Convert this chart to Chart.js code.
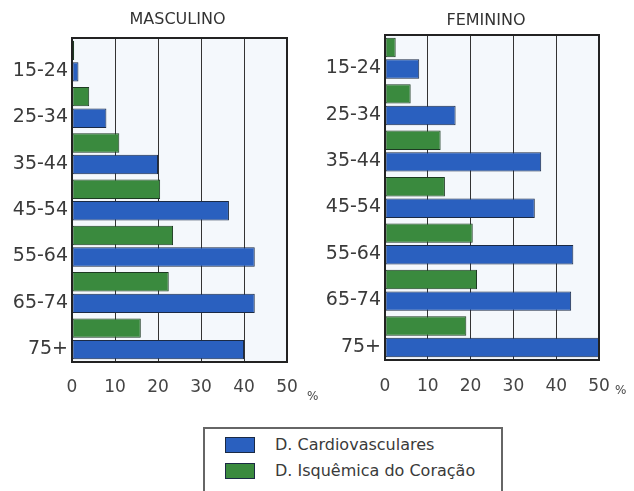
<!DOCTYPE html>
<html><head><meta charset="utf-8">
<script src="https://cdn.jsdelivr.net/npm/chart.js@4"></script>
<style>
body{margin:0;background:#fff;width:634px;height:491px;position:relative;overflow:hidden;font-family:"DejaVu Sans",sans-serif;color:#333}
#c1wrap{position:absolute;left:0;top:0;width:315px;height:410px}
#c2wrap{position:absolute;left:310px;top:0;width:324px;height:410px}
.pct{position:absolute;font-size:12px;color:#444;line-height:12px}
#legend{position:absolute;left:203px;top:427px;width:300px;height:80px;border:2px solid #666;box-sizing:border-box;font-size:16px;color:#3a3a3a}
.sw{position:absolute;left:20px;width:30px;height:16px;border:1px solid #1b2a44;box-sizing:border-box}
.lt{position:absolute;left:70px;line-height:18px}
</style></head>
<body>
<div id="c1wrap"><canvas id="c1"></canvas></div>
<div id="c2wrap"><canvas id="c2"></canvas></div>
<span class="pct" style="left:307px;top:390px">%</span>
<span class="pct" style="left:615px;top:384px">%</span>
<div id="legend">
  <div class="sw" style="top:8px;background:#2a60bf"></div><span class="lt" style="top:7px">D. Cardiovasculares</span>
  <div class="sw" style="top:34px;background:#3a8a3e"></div><span class="lt" style="top:33px">D. Isquêmica do Coração</span>
</div>
<script>
const ageGroups = ["15-24","25-34","35-44","45-54","55-64","65-74","75+"];
const xTicks = [0,10,20,30,40,50];
const panelTitles = ["MASCULINO","FEMININO"];
const seriesNames = ["D. Isquêmica do Coração","D. Cardiovasculares"];
const mascIsquemica = [0.5, 4, 11, 20.5, 23.5, 22.5, 16];
const mascCardio = [1.5, 8, 20, 36.5, 42.5, 42.5, 40];
const femIsquemica = [2.5, 6, 13, 14, 20.5, 21.5, 19];
const femCardio = [8, 16.5, 36.5, 35, 44, 43.5, 50];

const BLUE = "#2a60bf", GREEN = "#3a8a3e";

const framePlugin = {
  id: "frame",
  beforeDraw(chart){
    const a = chart.chartArea, ctx = chart.ctx;
    ctx.save(); ctx.fillStyle = "#f4f8fc";
    ctx.fillRect(a.left, a.top, a.right-a.left, a.bottom-a.top);
    ctx.restore();
  },
  afterDraw(chart, args, opts){
    const a = chart.chartArea, ctx = chart.ctx;
    ctx.save(); ctx.strokeStyle = "#222"; ctx.lineWidth = 2;
    ctx.strokeRect(a.left, a.top, a.right-a.left, a.bottom-a.top);
    ctx.fillStyle = "#333"; ctx.font = "16px 'DejaVu Sans'";
    ctx.textAlign = "center"; ctx.textBaseline = "middle";
    ctx.fillText(opts.text, (a.left + a.right)/2 + opts.dx, opts.y);
    ctx.restore();
  }
};

function makeChart(id, title, green, blue, cfg){
  return new Chart(document.getElementById(id), {
    type: "bar",
    data: {
      labels: ageGroups,
      datasets: [
        {label: seriesNames[0], data: green, backgroundColor: GREEN, borderColor: "#1d3a22", borderWidth: 1, borderSkipped: false},
        {label: seriesNames[1], data: blue, backgroundColor: BLUE, borderColor: "#1b2a44", borderWidth: 1, borderSkipped: false}
      ]
    },
    options: {
      indexAxis: "y",
      responsive: true, maintainAspectRatio: false, animation: false,
      datasets: {bar: {categoryPercentage: 0.93, barPercentage: 0.9}},
      layout: {padding: {left: 0, right: cfg.padRight, top: cfg.padTop, bottom: 0}},
      plugins: {
        legend: {display: false}, tooltip: {enabled: false}, title: {display: false},
        frame: {text: title, y: cfg.titleY, dx: cfg.titleDx}
      },
      scales: {
        x: {
          type: "linear", min: 0, max: 50,
          afterBuildTicks: s => { s.ticks = xTicks.map(v => ({value: v})); },
          afterFit: s => { s.height = cfg.xH; },
          grid: {color: "#333", lineWidth: 1, drawTicks: false},
          border: {display: false},
          ticks: {color: "#444", padding: cfg.xPad, font: {family: "DejaVu Sans", size: 17}}
        },
        y: {
          afterFit: s => { s.width = cfg.yW; },
          grid: {display: false},
          border: {display: false},
          ticks: {color: "#3a3a3a", padding: -4, labelOffset: 10, font: {family: "DejaVu Sans", size: 19}}
        }
      }
    },
    plugins: [framePlugin]
  });
}

makeChart("c1", panelTitles[0], mascIsquemica, mascCardio, {padRight: 28, padTop: 38, titleY: 20, titleDx: -2, xH: 48, yW: 72, xPad: 15});
makeChart("c2", panelTitles[1], femIsquemica, femCardio, {padRight: 35, padTop: 35, titleY: 21, titleDx: -6, xH: 50, yW: 75, xPad: 16});
</script>
</body></html>
